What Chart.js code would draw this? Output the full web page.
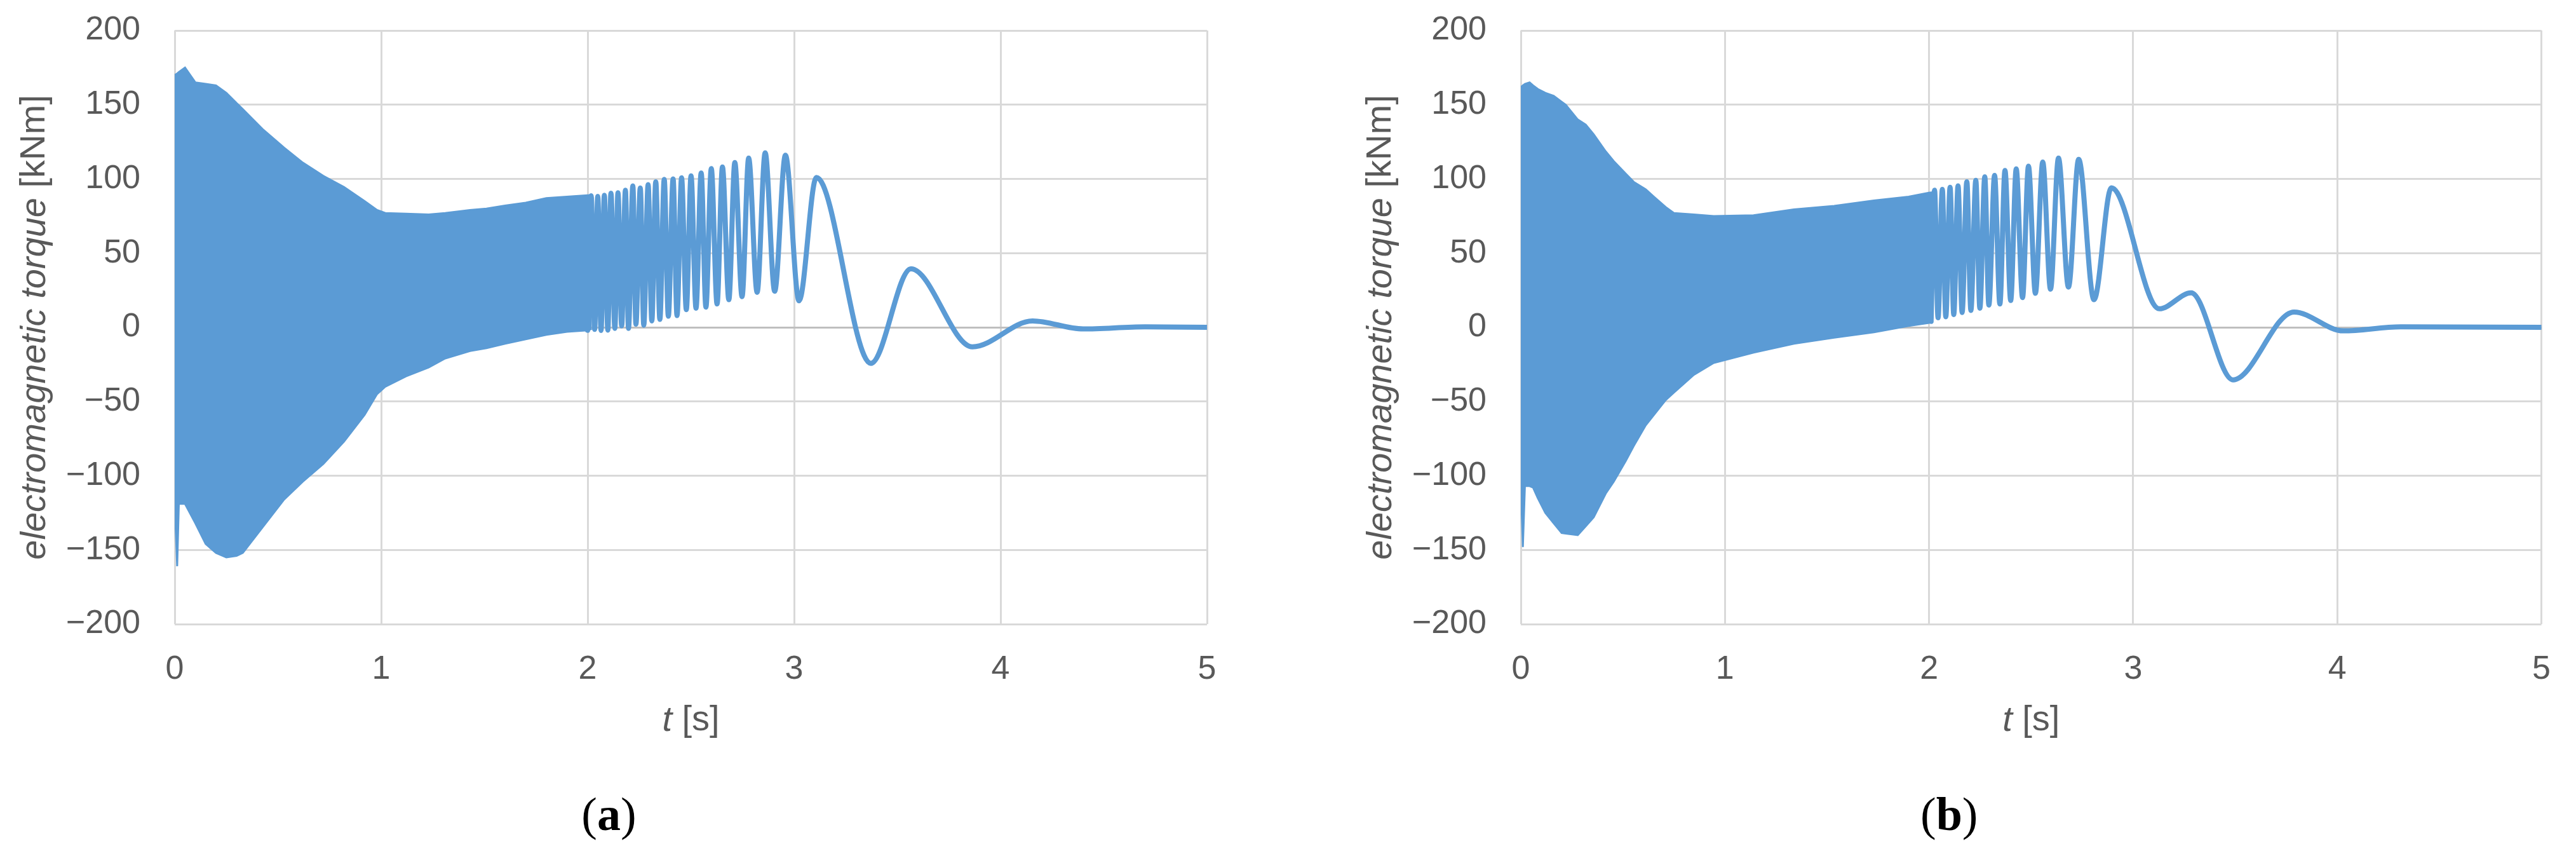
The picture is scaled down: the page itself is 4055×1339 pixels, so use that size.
<!DOCTYPE html>
<html>
<head>
<meta charset="utf-8">
<script src="https://cdn.jsdelivr.net/npm/chart.js@4.4.0/dist/chart.umd.min.js"></script>
<style>
html, body { margin: 0; padding: 0; background: #fff; }
body { width: 4055px; height: 1339px; position: relative; overflow: hidden; }
canvas { position: absolute; top: 0; }
#chartA { left: 0; }
#chartB { left: 2100px; }
</style>
</head>
<body>
<canvas id="chartA" width="2000" height="1339"></canvas>
<canvas id="chartB" width="1955" height="1339"></canvas>
<script>
// Axis ticks
const xTicks = [0, 1, 2, 3, 4, 5];
const yTicks = [-200, -150, -100, -50, 0, 50, 100, 150, 200];

// (a) dense part: envelope of the fast oscillation [s, kNm]
const bandTimeA  = [0, 0.012, 0.02, 0.05, 0.1, 0.15, 0.2, 0.25, 0.3, 0.33, 0.43, 0.53, 0.62, 0.72, 0.82, 0.92, 0.98, 1.02, 1.12, 1.23, 1.31, 1.43, 1.51, 1.6, 1.7, 1.8, 1.9, 2.0, 2.02];
const bandUpperA = [170, 171, 172, 175, 165, 164, 163, 158, 151, 147, 133, 121, 111, 102, 94.5, 85, 79, 77, 76.5, 76, 77, 79, 80, 82, 84, 87, 88, 89, 89];
const bandLowerA = [-120, -161, -119, -119, -132, -146, -152, -155, -154, -152, -134, -116, -104, -92, -77, -59, -45, -40, -33, -27, -21, -16, -14, -11, -8, -5, -3, -2, -1];

// (a) resolved swings: peaks and troughs
const waveTimeA   = [2.0, 2.017, 2.034, 2.049, 2.065, 2.081, 2.098, 2.113, 2.132, 2.147, 2.165, 2.183, 2.198, 2.219, 2.234, 2.255, 2.272, 2.293, 2.311, 2.33, 2.35, 2.371, 2.391, 2.414, 2.433, 2.455, 2.478, 2.501, 2.525, 2.55, 2.573, 2.599, 2.627, 2.653, 2.684, 2.713, 2.748, 2.78, 2.821, 2.86, 2.906, 2.958, 3.024, 3.108, 3.372, 3.566, 3.864, 4.155, 4.4, 4.7, 5.0];
const waveTorqueA = [-2, 88.6, -1.4, 88.2, -2.1, 89, -1.9, 90.4, -0.7, 90.7, 1, 92.4, -0.7, 95.3, 2.1, 93.9, 1.4, 96.1, 4.3, 98.1, 5.3, 99.7, 7.5, 100, 7.9, 100.7, 11.9, 102, 12.9, 104, 13.6, 107, 15.7, 108, 18.6, 111, 20.7, 114, 23.6, 117.6, 24.3, 116, 17.9, 101, -24.3, 39.4, -13.2, 4.3, -1.1, 0.3, 0];

// (b) dense part
const bandTimeB  = [0, 0.01, 0.02, 0.043, 0.06, 0.083, 0.12, 0.161, 0.2, 0.22, 0.279, 0.318, 0.357, 0.416, 0.455, 0.514, 0.553, 0.612, 0.652, 0.71, 0.75, 0.848, 0.945, 1.14, 1.338, 1.535, 1.73, 1.9, 2.0, 2.02];
const bandUpperB = [162, 163, 164, 165, 163, 160.6, 158, 156, 152, 150, 140, 136.6, 130, 118.5, 112, 103.5, 98, 93, 88, 81, 77, 76, 75, 75.5, 79.4, 81.8, 85.4, 88, 90.7, 91];
const bandLowerB = [-107, -148, -107, -107, -108, -115, -125, -132, -138.6, -139, -140, -134, -128, -112, -104, -90, -80, -66, -59, -49, -44, -32, -24, -17, -11, -7, -3.3, 1, 3, 4];

// (b) resolved swings
const waveTimeB   = [2.01, 2.027, 2.044, 2.065, 2.082, 2.103, 2.121, 2.142, 2.162, 2.185, 2.205, 2.229, 2.249, 2.273, 2.293, 2.321, 2.347, 2.372, 2.4, 2.427, 2.458, 2.487, 2.521, 2.557, 2.595, 2.634, 2.683, 2.733, 2.808, 2.893, 3.128, 3.284, 3.489, 3.788, 4.03, 4.31, 5.0];
const waveTorqueB = [4, 92.4, 6.4, 92.9, 7.1, 94.3, 8.6, 95.3, 10, 98.1, 11.4, 99, 12.9, 101.4, 15, 102.4, 15.7, 105.7, 18.1, 106.7, 20, 108.6, 22.9, 111.4, 25.7, 114, 27.1, 113.2, 18.6, 94, 12.5, 23.2, -35.4, 10.3, -2.4, 0.3, 0];

const BLUE = '#5B9BD5';
const TXT = '#595959';
const SANS = '"Liberation Sans", Arial, sans-serif';
const SERIF = '"Liberation Serif", "Times New Roman", serif';

function pts(xs, ys) {
    return xs.map((x, i) => ({ x: x, y: ys[i] }));
}

// draw a line of text made of several font runs, centred on (x, y)
function drawRuns(ctx, runs, x, y) {
    let total = 0;
    runs.forEach(r => { ctx.font = r.font; total += ctx.measureText(r.text).width; });
    let cx = x - total / 2;
    runs.forEach(r => {
        ctx.font = r.font;
        ctx.fillStyle = r.color;
        ctx.fillText(r.text, cx, y);
        cx += ctx.measureText(r.text).width;
    });
}

const panelText = {
    id: 'panelText',
    afterDraw(chart, args, opts) {
        const ctx = chart.ctx;
        const a = chart.chartArea;
        const midX = (a.left + a.right) / 2;
        ctx.save();
        ctx.textBaseline = 'middle';
        ctx.textAlign = 'left';
        // y title
        ctx.save();
        ctx.translate(a.left - 220, (a.top + a.bottom) / 2);
        ctx.rotate(-Math.PI / 2);
        drawRuns(ctx, [
            { text: 'electromagnetic torque ', font: 'italic 56px ' + SANS, color: TXT },
            { text: '[kNm]', font: '56px ' + SANS, color: TXT }
        ], 0, 0);
        ctx.restore();
        // x title
        drawRuns(ctx, [
            { text: 't', font: 'italic 56px ' + SANS, color: TXT },
            { text: ' [s]', font: '56px ' + SANS, color: TXT }
        ], midX, a.bottom + 152);
        // caption
        drawRuns(ctx, [
            { text: '(', font: '74px ' + SERIF, color: '#000' },
            { text: opts.caption, font: 'bold 74px ' + SERIF, color: '#000' },
            { text: ')', font: '74px ' + SERIF, color: '#000' }
        ], midX - 129, a.bottom + 305);
        ctx.restore();
    }
};

function makeChart(id, bandT, bandUp, bandLo, waveT, waveV, caption, yAxisWidth, padRight) {
    const ctx = document.getElementById(id).getContext('2d');
    return new Chart(ctx, {
        type: 'line',
        data: {
            datasets: [{
                data: pts(bandT, bandUp),
                borderColor: BLUE,
                backgroundColor: BLUE,
                borderWidth: 3,
                pointRadius: 0,
                tension: 0,
                fill: '+1'
            }, {
                data: pts(bandT, bandLo),
                borderColor: BLUE,
                backgroundColor: BLUE,
                borderWidth: 3,
                pointRadius: 0,
                tension: 0,
                fill: false
            }, {
                data: pts(waveT, waveV),
                borderColor: BLUE,
                borderWidth: 8,
                pointRadius: 0,
                cubicInterpolationMode: 'monotone',
                borderCapStyle: 'round',
                borderJoinStyle: 'round',
                fill: false
            }]
        },
        options: {
            responsive: false,
            animation: false,
            devicePixelRatio: 1,
            layout: { padding: { top: 48, right: padRight, left: 0, bottom: 0 } },
            plugins: {
                legend: { display: false },
                tooltip: { enabled: false },
                panelText: { caption: caption }
            },
            scales: {
                x: {
                    type: 'linear',
                    min: xTicks[0],
                    max: xTicks[xTicks.length - 1],
                    afterBuildTicks: s => { s.ticks = xTicks.map(v => ({ value: v })); },
                    afterFit: s => { s.height = 357; },
                    grid: { color: '#d9d9d9', lineWidth: 3, drawTicks: false },
                    border: { display: false },
                    ticks: { color: TXT, font: { family: SANS, size: 52 }, padding: 40, maxRotation: 0 }
                },
                y: {
                    type: 'linear',
                    min: yTicks[0],
                    max: yTicks[yTicks.length - 1],
                    afterBuildTicks: s => { s.ticks = yTicks.map(v => ({ value: v })); },
                    afterFit: s => { s.width = yAxisWidth; s.paddingTop = 0; s.paddingBottom = 0; },
                    grid: {
                        color: c => (c.tick && c.tick.value === 0) ? '#bfbfbf' : '#d9d9d9',
                        lineWidth: 3,
                        drawTicks: false
                    },
                    border: { display: false },
                    ticks: {
                        color: TXT,
                        font: { family: SANS, size: 52 },
                        padding: 54,
                        callback: v => v < 0 ? '\u2212' + Math.abs(v) : String(v)
                    }
                }
            }
        },
        plugins: [panelText]
    });
}

makeChart('chartA', bandTimeA, bandUpperA, bandLowerA, waveTimeA, waveTorqueA, 'a', 275, 100);
makeChart('chartB', bandTimeB, bandUpperB, bandLowerB, waveTimeB, waveTorqueB, 'b', 294, 36);
</script>
</body>
</html>
